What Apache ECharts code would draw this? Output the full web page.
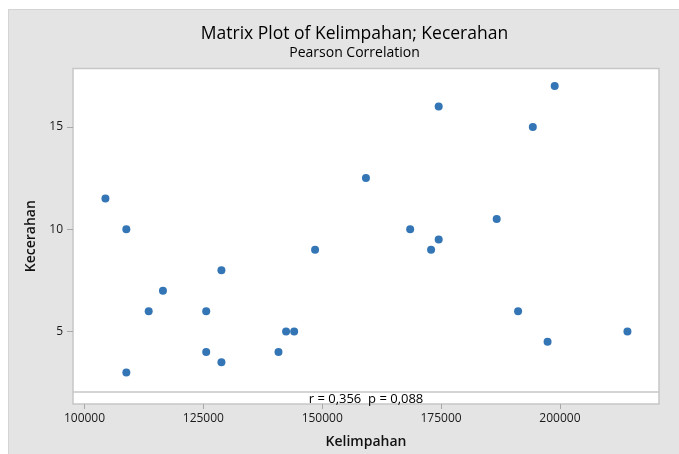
<!DOCTYPE html>
<html>
<head>
<meta charset="utf-8">
<script src="https://cdn.jsdelivr.net/npm/echarts@6/dist/echarts.min.js"></script>
<style>
  body { margin: 0; background: #fff; }
  #bg { position: absolute; left: 8px; top: 9px; width: 671px; height: 445px; background: #e4e4e4; border-left: 1px solid #d4d4d4; border-top: 1px solid #d4d4d4; }
  #chart { position: absolute; left: 0; top: 0; width: 679px; height: 454px; }
</style>
</head>
<body>
<div id="bg"></div>
<div id="chart"></div>
<script>
// Kelimpahan (x) vs Kecerahan (y)
var kelimpahan = [104400, 108800, 108800, 113500, 116500, 125600, 125600, 128800, 128800, 140800, 142400, 144100,
                  148500, 159200, 168500, 172900, 174500, 174500, 186700, 191200, 194300, 197400, 198900, 214200];
var kecerahan  = [11.5, 10, 3, 6, 7, 6, 4, 8, 3.5, 4, 5, 5,
                  9, 12.5, 10, 9, 9.5, 16, 10.5, 6, 15, 4.5, 17, 5];
var xTicks = [100000, 125000, 150000, 175000, 200000];
var yTicks = [5, 10, 15];
var corrText = 'r = 0,356  p = 0,088';

var points = [];
for (var i = 0; i < kelimpahan.length; i++) {
    points.push([kelimpahan[i], kecerahan[i]]);
}

var myChart = echarts.init(document.getElementById('chart'));
var font = 'Open Sans';

var option = {
    backgroundColor: 'transparent',
    animation: false,
    title: [
        {
            text: 'Matrix Plot of Kelimpahan; Kecerahan',
            left: 349.5, top: 20, textAlign: 'center',
            textStyle: { fontFamily: font, fontSize: 17.5, fontWeight: 500, color: '#000' }
        },
        {
            text: 'Pearson Correlation',
            left: 349.5, top: 41, textAlign: 'center',
            textStyle: { fontFamily: font, fontSize: 14, fontWeight: 500, color: '#000' }
        }
    ],
    grid: {
        left: 73, top: 68.5, right: 20, bottom: 48,
        show: true,
        backgroundColor: '#fff',
        borderColor: '#c6c6c6',
        borderWidth: 1.5
    },
    xAxis: {
        type: 'value',
        min: 97580,
        max: 220840,
        name: 'Kelimpahan',
        nameLocation: 'middle',
        nameGap: 31,
        nameTextStyle: { fontFamily: font, fontSize: 14, fontWeight: 600, color: '#111' },
        axisLine: { show: false },
        axisTick: { show: true, length: 5, customValues: xTicks, lineStyle: { color: '#a8a8a8' } },
        axisLabel: {
            customValues: xTicks, margin: 9, fontFamily: font, fontSize: 12, color: '#1a1a1a',
            formatter: function (v) { return String(v); }
        },
        splitLine: { show: false }
    },
    yAxis: {
        type: 'value',
        min: 1.464,
        max: 17.855,
        name: 'Kecerahan',
        nameLocation: 'middle',
        nameGap: 32,
        nameRotate: 90,
        nameTextStyle: { fontFamily: font, fontSize: 14, fontWeight: 600, color: '#111' },
        axisLine: { show: false },
        axisTick: { show: true, length: 6, customValues: yTicks, lineStyle: { color: '#a8a8a8' } },
        axisLabel: { customValues: yTicks, margin: 10, fontFamily: font, fontSize: 12, color: '#1a1a1a' },
        splitLine: { show: false }
    },
    series: [
        {
            name: 'Kecerahan',
            type: 'scatter',
            symbol: 'circle',
            symbolSize: 8,
            itemStyle: { color: '#0052a3' },
            emphasis: { disabled: true },
            data: points
        }
    ],
    graphic: [
        {
            type: 'line',
            shape: { x1: 73, y1: 392, x2: 659, y2: 392 },
            style: { stroke: '#c6c6c6', lineWidth: 1.5 },
            z: 100
        },
        {
            type: 'text',
            x: 366, y: 399.5,
            style: {
                text: corrText,
                font: '13px "Open Sans"',
                fill: '#000',
                align: 'center',
                verticalAlign: 'middle'
            },
            z: 100
        }
    ]
};

myChart.setOption(option);
</script>
</body>
</html>
